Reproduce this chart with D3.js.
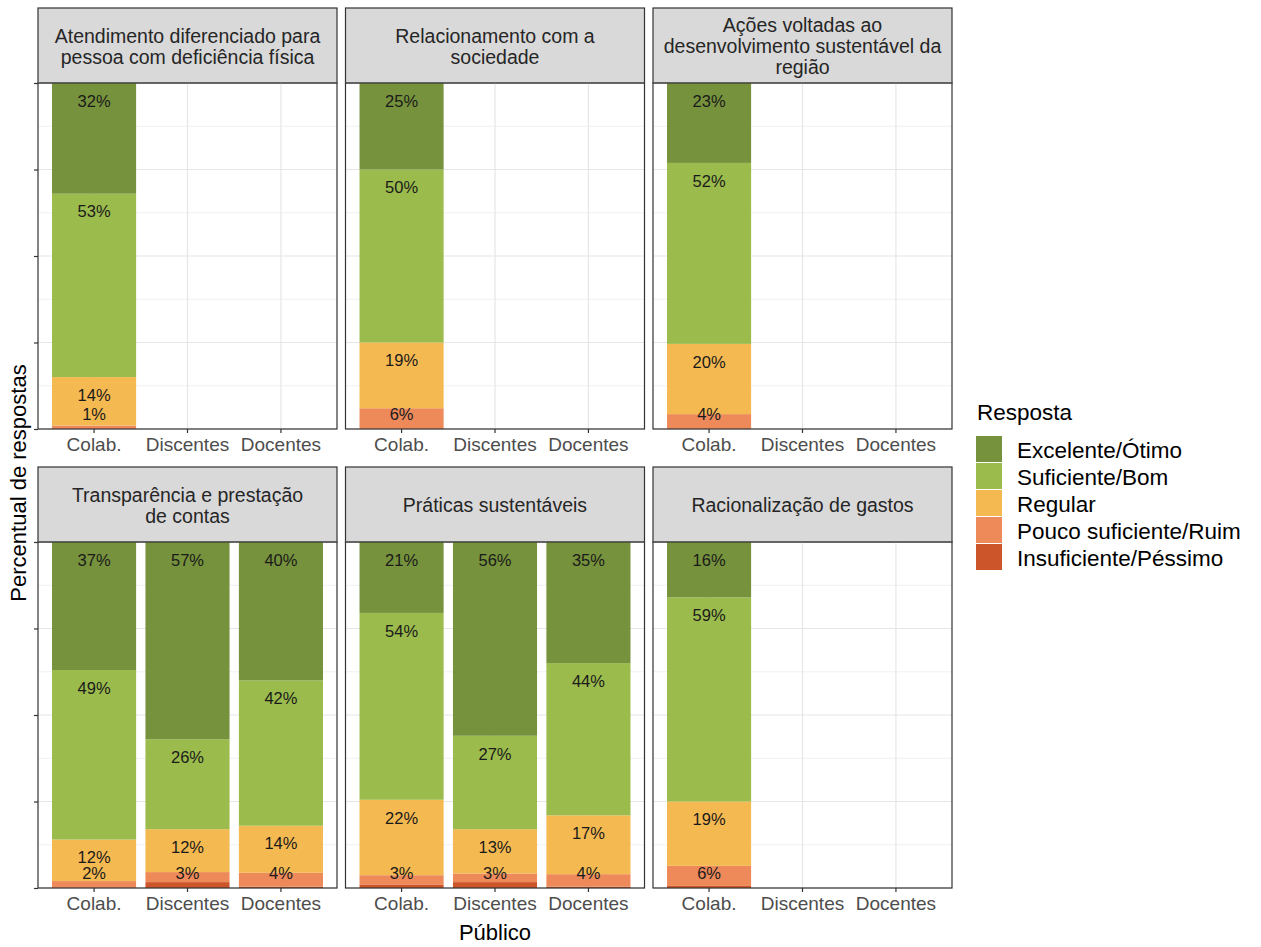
<!DOCTYPE html>
<html>
<head>
<meta charset="utf-8">
<script src="https://cdn.jsdelivr.net/npm/d3@7"></script>
<style>
  body { margin: 0; background: #fff; }
  text { font-family: "Liberation Sans", Arial, sans-serif; }
</style>
</head>
<body>
<div id="chart"></div>
<script>
// Categories
const publicos = ['Colab.', 'Discentes', 'Docentes'];
const respostas = ['Excelente/Ótimo', 'Suficiente/Bom', 'Regular', 'Pouco suficiente/Ruim', 'Insuficiente/Péssimo'];
const cores = ['#76923c', '#9bbb4d', '#f5b951', '#ee8a5a', '#cc5529'];

// Facet titles (already wrapped as in the strips)
const titulos = [
  ['Atendimento diferenciado para', 'pessoa com deficiência física'],
  ['Relacionamento com a', 'sociedade'],
  ['Ações voltadas ao', 'desenvolvimento sustentável da', 'região'],
  ['Transparência e prestação', 'de contas'],
  ['Práticas sustentáveis'],
  ['Racionalização de gastos']
];

// Values per facet: [público, [Excelente, Suficiente, Regular, Pouco, Insuficiente]]
const atendimento = [['Colab.', [32, 53, 14, 1, 0]]];
const relacionamento = [['Colab.', [25, 50, 19, 6, 0]]];
const acoes = [['Colab.', [23.1, 52.3, 20.3, 4.3, 0]]];
const transparencia = [
  ['Colab.', [37, 49, 12, 2, 0]],
  ['Discentes', [57, 26, 12.4, 2.9, 1.7]],
  ['Docentes', [40, 42, 13.6, 4, 0.4]]
];
const praticas = [
  ['Colab.', [20.5, 54, 21.8, 2.8, 0.9]],
  ['Discentes', [56, 27, 12.8, 2.5, 1.7]],
  ['Docentes', [35, 44, 17, 3.6, 0.4]]
];
const racionalizacao = [['Colab.', [16, 59, 18.6, 5.8, 0.6]]];

const facetas = [atendimento, relacionamento, acoes, transparencia, praticas, racionalizacao];

const W = 1261, H = 947;
const panelW = 299, panelH = 346, stripH = 75;
const colX = [38, 345.5, 653];
const rowY = [8, 467];

const svg = d3.select('#chart').append('svg')
  .attr('width', W)
  .attr('height', H);

// ggplot discrete scale: 0.6 expansion around the first/last category centre
const x = d3.scaleBand().domain(publicos).range([0, panelW]).paddingInner(0).paddingOuter(0.1);
const barW = x.step() * 0.9;
const cx = d => x(d) + x.bandwidth() / 2;
const y = d3.scaleLinear().domain([0, 1]).range([panelH, 0]);

const stack = d3.stack()
  .keys([4, 3, 2, 1, 0])
  .value((d, k) => d.vals[k])
  .offset(d3.stackOffsetExpand);

facetas.forEach((dados, i) => {
  const px = colX[i % 3], py = rowY[Math.floor(i / 3)];
  const g = svg.append('g').attr('transform', `translate(${px},${py})`);

  // Strip
  g.append('rect')
    .attr('width', panelW).attr('height', stripH)
    .attr('fill', '#d9d9d9').attr('stroke', '#333').attr('stroke-width', 1.2);
  const linhas = titulos[i];
  const lh = 21;
  g.append('g').selectAll('text')
    .data(linhas)
    .join('text')
    .attr('x', panelW / 2)
    .attr('y', (d, j) => stripH / 2 + (j - (linhas.length - 1) / 2) * lh + 1)
    .attr('dy', '0.35em')
    .attr('text-anchor', 'middle')
    .attr('font-size', 19.5)
    .attr('fill', '#262626')
    .text(d => d);

  const p = g.append('g').attr('transform', `translate(0,${stripH})`);

  // Grid
  p.append('g').selectAll('line')
    .data([0.125, 0.375, 0.625, 0.875])
    .join('line')
    .attr('x1', 0).attr('x2', panelW)
    .attr('y1', d => y(d)).attr('y2', d => y(d))
    .attr('stroke', '#f0f0f0').attr('stroke-width', 1);
  p.append('g').selectAll('line')
    .data([0, 0.25, 0.5, 0.75, 1])
    .join('line')
    .attr('x1', 0).attr('x2', panelW)
    .attr('y1', d => y(d)).attr('y2', d => y(d))
    .attr('stroke', '#e6e6e6').attr('stroke-width', 1.2);
  p.append('g').selectAll('line')
    .data(publicos)
    .join('line')
    .attr('x1', cx).attr('x2', cx)
    .attr('y1', 0).attr('y2', panelH)
    .attr('stroke', '#e6e6e6').attr('stroke-width', 1.2);

  // Bars
  const linhasDados = dados.map(([pub, vals]) => ({ pub, vals }));
  const series = stack(linhasDados);

  const seg = p.append('g').selectAll('g')
    .data(series)
    .join('g')
    .attr('fill', s => cores[s.key]);
  seg.selectAll('rect')
    .data(s => s)
    .join('rect')
    .attr('x', d => cx(d.data.pub) - barW / 2)
    .attr('width', barW)
    .attr('y', d => y(d[1]))
    .attr('height', d => y(d[0]) - y(d[1]));

  // Labels: just under the top of each segment, kept inside the bar at the bottom
  const rotulos = [];
  series.forEach(s => {
    s.forEach(d => {
      const v = d.data.vals[s.key];
      const total = d3.sum(d.data.vals);
      if (s.key < 4 && v > 0) {
        rotulos.push({
          pub: d.data.pub,
          yv: Math.max(d[1] - 0.052, 0.043),
          txt: Math.round(v / total * 100) + '%'
        });
      }
    });
  });
  p.append('g').selectAll('text')
    .data(rotulos)
    .join('text')
    .attr('x', d => cx(d.pub))
    .attr('y', d => y(d.yv))
    .attr('dy', '0.35em')
    .attr('text-anchor', 'middle')
    .attr('font-size', 16.5)
    .attr('fill', '#1a1a1a')
    .text(d => d.txt);

  // Panel border
  p.append('rect')
    .attr('width', panelW).attr('height', panelH)
    .attr('fill', 'none').attr('stroke', '#333').attr('stroke-width', 1.2);

  // X axis
  const ax = p.append('g')
    .attr('transform', `translate(0,${panelH})`)
    .call(d3.axisBottom(x).tickSize(4).tickPadding(5));
  ax.select('.domain').remove();
  ax.selectAll('line').attr('stroke', '#333').attr('stroke-width', 1.2);
  ax.selectAll('text').attr('font-size', 19).attr('fill', '#4d4d4d')
    .attr('font-family', '"Liberation Sans", Arial, sans-serif');

  // Y ticks (labels hidden in the original)
  if (i % 3 === 0) {
    const ay = p.append('g')
      .call(d3.axisLeft(y).tickValues([0, 0.25, 0.5, 0.75, 1]).tickSize(4).tickFormat(''));
    ay.select('.domain').remove();
    ay.selectAll('line').attr('stroke', '#333').attr('stroke-width', 1.2);
  }
});

// Axis titles
svg.append('text')
  .attr('x', 495).attr('y', 932)
  .attr('dy', '0.35em')
  .attr('text-anchor', 'middle')
  .attr('font-size', 22)
  .text('Público');

svg.append('text')
  .attr('transform', 'translate(18,483) rotate(-90)')
  .attr('dy', '0.35em')
  .attr('text-anchor', 'middle')
  .attr('font-size', 22)
  .text('Percentual de respostas');

// Legend
const leg = svg.append('g').attr('transform', 'translate(976,412)');
leg.append('text')
  .attr('x', 1).attr('y', 0)
  .attr('dy', '0.35em')
  .attr('font-size', 22.5)
  .text('Resposta');
const item = leg.selectAll('g')
  .data(respostas)
  .join('g')
  .attr('transform', (d, j) => `translate(0,${24 + j * 27})`);
item.append('rect')
  .attr('width', 26).attr('height', 26)
  .attr('fill', (d, j) => cores[j]);
item.append('text')
  .attr('x', 41).attr('y', 14)
  .attr('dy', '0.35em')
  .attr('font-size', 22.5)
  .text(d => d);
</script>
</body>
</html>
